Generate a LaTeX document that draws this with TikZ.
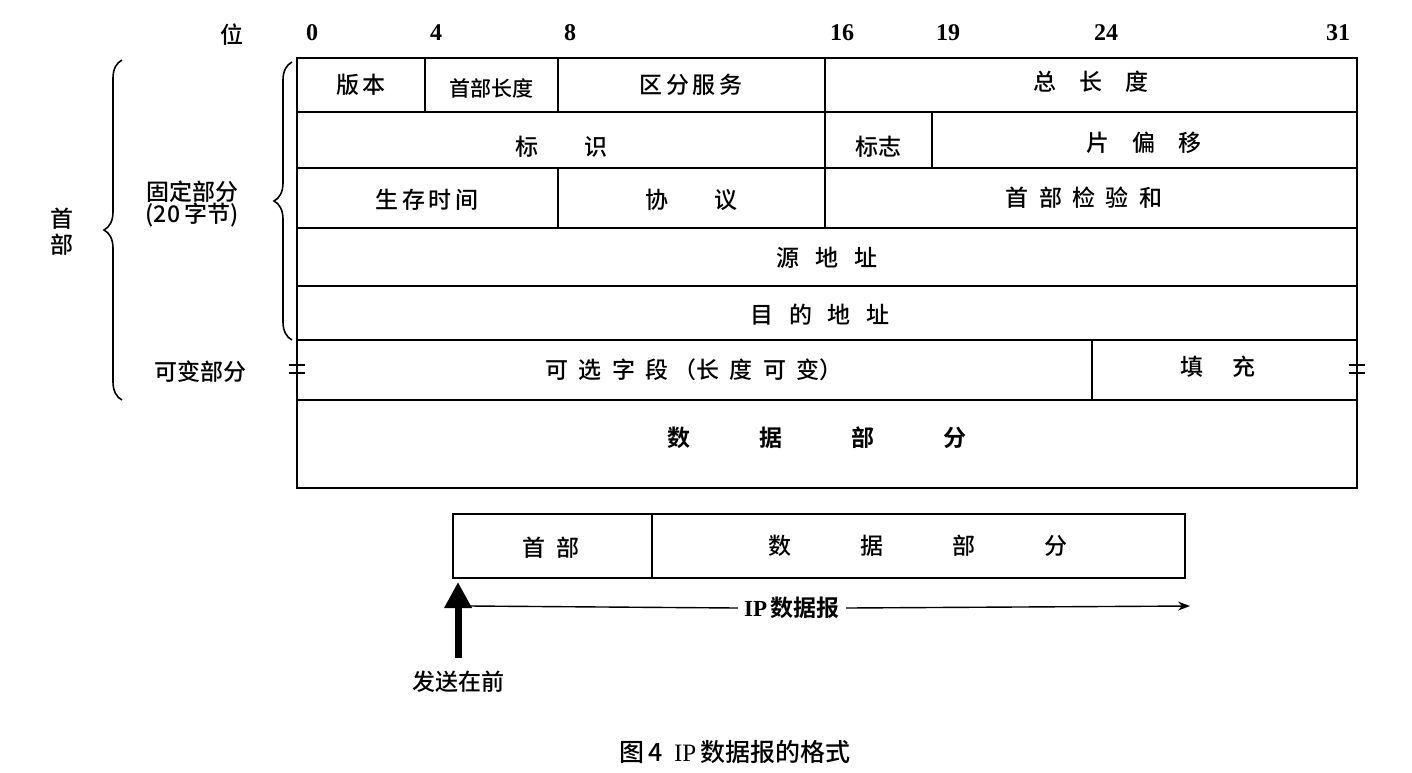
\documentclass[tikz,border=0pt]{standalone}
\usepackage{fontspec}
\setmainfont{Liberation Serif}
\newfontfamily\cjk{Noto Sans CJK SC Medium}[BoldFont={Noto Sans CJK SC Bold}]
\usetikzlibrary{decorations.pathreplacing,arrows.meta}
\begin{document}
\begin{tikzpicture}[x=1pt,y=-1pt,
  lbl/.style={font=\cjk\fontsize{23}{26}\selectfont},
  bit/.style={font=\bfseries\fontsize{24}{26}\selectfont},
  brc/.style={decorate,decoration={brace,amplitude=18pt},line width=1.6pt}]
\useasboundingbox (0,0) rectangle (1412,772);
% bit labels
\node[lbl] (wei) at (232,35) {位};
\foreach \t/\x in {0/312,4/436,8/570,16/842,19/948,24/1106,31/1338}
  \node[bit] (b\t) at (\x,33) {\t};
% rows
\def\L{297}\def\R{1357}
\draw[line width=1.4pt] (\L,58) rectangle (\R,488);
\foreach \y in {112,168,228,286,340,400} \draw[line width=1.4pt] (\L,\y) -- (\R,\y);
\draw[line width=1.4pt] (425,58)--(425,112) (558,58)--(558,112) (825,58)--(825,112);
\draw[line width=1.4pt] (825,112)--(825,168) (932,112)--(932,168);
\draw[line width=1.4pt] (558,168)--(558,228) (825,168)--(825,228);
\draw[line width=1.4pt] (1092,340)--(1092,400);
\node[lbl] (r1a) at (361,85) {版\,本};
\node[lbl,font=\cjk\fontsize{21}{24}\selectfont] (r1b) at (491,88) {首部长度};
\node[lbl] (r1c) at (691,85) {区\,分\,服\,务};
\node[lbl] (r1d) at (1091,82) {总\quad 长\quad 度};
\node[lbl] (r2a) at (561,147) {标\qquad 识};
\node[lbl] (r2b) at (878,147) {标志};
\node[lbl] (r2c) at (1144,143) {片\quad 偏\quad 移};
\node[lbl] (r3a) at (427,200) {生\,存\,时\,间};
\node[lbl] (r3b) at (691,200) {协\qquad 议};
\node[lbl] (r3c) at (1084,198) {首\ \ 部\ \ 检\ \ 验\ \ 和};
\node[lbl] (r4) at (827,258) {源\ \ \ 地\ \ \ 址};
\node[lbl] (r5) at (820,315) {目\ \ \ 的\ \ \ 地\ \ \ 址};
\node[lbl] (r6a) at (694,370) {可\ \ 选\ \ 字\ \ 段\ （长\ \ 度\ \ 可\ \ 变）};
\node[lbl] (r6b) at (1218,367) {填\quad\ 充};
\node[lbl,font=\cjk\bfseries\fontsize{23}{26}\selectfont] (r7) at (817,438) {数\qquad\quad 据\qquad\quad 部\qquad\quad 分};
% = marks
\foreach \x in {\L,\R} \draw[line width=1.8pt] (\x-8,365)--(\x+8,365) (\x-8,373)--(\x+8,373);
% braces
\draw[brc] (292,340) -- (292,62);
\draw[brc] (122,400) -- (122,60);
\node[lbl,align=center] (gd) at (192,204) {固定部分\\[-4pt](20\,字节)};
\node[lbl,align=center] (sb) at (62,232) {首\\部};
\node[lbl] (kb) at (200,372) {可变部分};
% bottom bar
\draw[line width=1.4pt] (453,514) rectangle (1185,578);
\draw[line width=1.4pt] (652,514)--(652,578);
\node[lbl] (bh) at (551,548) {首\ \ 部};
\node[lbl] (bd) at (918,546) {数\qquad\quad 据\qquad\quad 部\qquad\quad 分};
\coordinate (as) at (458,658);
\coordinate (ae) at (458,582);
\draw[line width=7pt,-{Triangle[length=26pt,width=26pt]}] (as) -- (ae);
\node[lbl] (fs) at (458,682) {发送在前};
\node[lbl,fill=white,inner xsep=6pt] (ip) at (792,608) {\rmfamily\bfseries IP\,\cjk 数据报};
\coordinate (l0) at (470,606);
\coordinate (l1) at (1190,606);
\draw[line width=1.4pt] (l0) -- (ip.west);
\draw[line width=1.4pt,-{Stealth[length=12pt]}] (ip.east) -- (l1);
\node[lbl,font=\cjk\fontsize{25}{28}\selectfont] (cap) at (735,752) {图\,4\ \ \rmfamily IP\,\cjk 数据报的格式};
\end{tikzpicture}
\end{document}
